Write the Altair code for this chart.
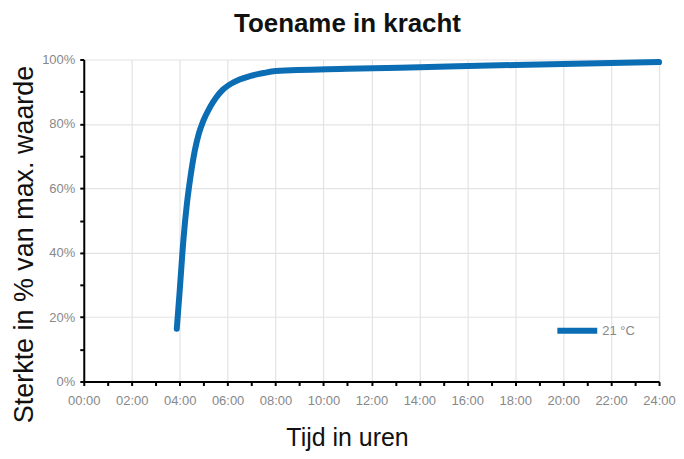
import altair as alt
import pandas as pd

hours = [3.88, 4.0, 4.16, 4.3, 4.44, 4.64, 4.8, 4.99, 5.25, 5.53, 5.8, 6.08, 6.5, 6.9, 7.5, 8.0, 11.0, 14.0, 18.0, 24.0]
strength = [16.4, 28.0, 44.3, 55.0, 63.0, 72.0, 77.0, 81.0, 85.0, 88.3, 90.6, 92.2, 93.8, 94.8, 95.8, 96.4, 97.1, 97.6, 98.3, 99.2]
series = ["21 °C"] * len(hours)

df = pd.DataFrame({"uur": hours, "sterkte": [s / 100 for s in strength], "reeks": series})

x_vals = list(range(0, 25))
y_vals = [i / 10 for i in range(0, 11)]

chart = alt.Chart(df).mark_line(strokeWidth=6, strokeCap="round", interpolate="monotone").encode(
    x=alt.X("uur:Q", scale=alt.Scale(domain=[0, 24], nice=False),
            axis=alt.Axis(values=x_vals, labelFlush=False, labelOverlap=False,
                          labelExpr="datum.value % 2 == 0 ? (datum.value < 10 ? '0' : '') + datum.value + ':00' : ''",
                          gridOpacity=alt.condition("datum.value % 2 == 0", alt.value(1), alt.value(0)),
                          title="Tijd in uren", titleFontSize=25, titleFontWeight="normal",
                          titleColor="#111", titlePadding=18, labelPadding=9, titleX=264)),
    y=alt.Y("sterkte:Q", scale=alt.Scale(domain=[0, 1], nice=False),
            axis=alt.Axis(values=y_vals, labelFlush=False, labelOverlap=False,
                          labelExpr="round(datum.value * 10) % 2 == 0 ? format(datum.value, '.0%') : ''",
                          gridOpacity=alt.condition("round(datum.value * 10) % 2 == 0", alt.value(1), alt.value(0)),
                          title="Sterkte in % van max. waarde", titleFontSize=27, titleFontWeight="normal",
                          titleColor="#111", titlePadding=3, labelPadding=5, titleY=185)),
    color=alt.Color("reeks:N", scale=alt.Scale(range=["#0b6db3"]),
                    legend=alt.Legend(title=None, orient="none", legendX=472, legendY=249,
                                      symbolType="stroke", symbolSize=1600, symbolStrokeWidth=6,
                                      labelColor="#888", labelFontSize=13, padding=0, labelOffset=2)),
).properties(
    width=577, height=323,
    padding={"left": 2, "top": 2, "right": 0, "bottom": 0},
    title=alt.Title("Toename in kracht", fontSize=26, fontWeight="bold", color="#111", offset=13,
                    anchor="middle", dx=-24),
).configure(
    font="Liberation Sans",
).configure_axis(
    domainColor="#000", domainWidth=2, tickColor="#000", tickWidth=2, tickSize=4,
    gridColor="#e3e3e3", gridWidth=1.2, labelColor="#888", labelFontSize=13,
).configure_view(stroke=None)

chart.save("out.html", embed_options={"renderer": "svg", "actions": False})
